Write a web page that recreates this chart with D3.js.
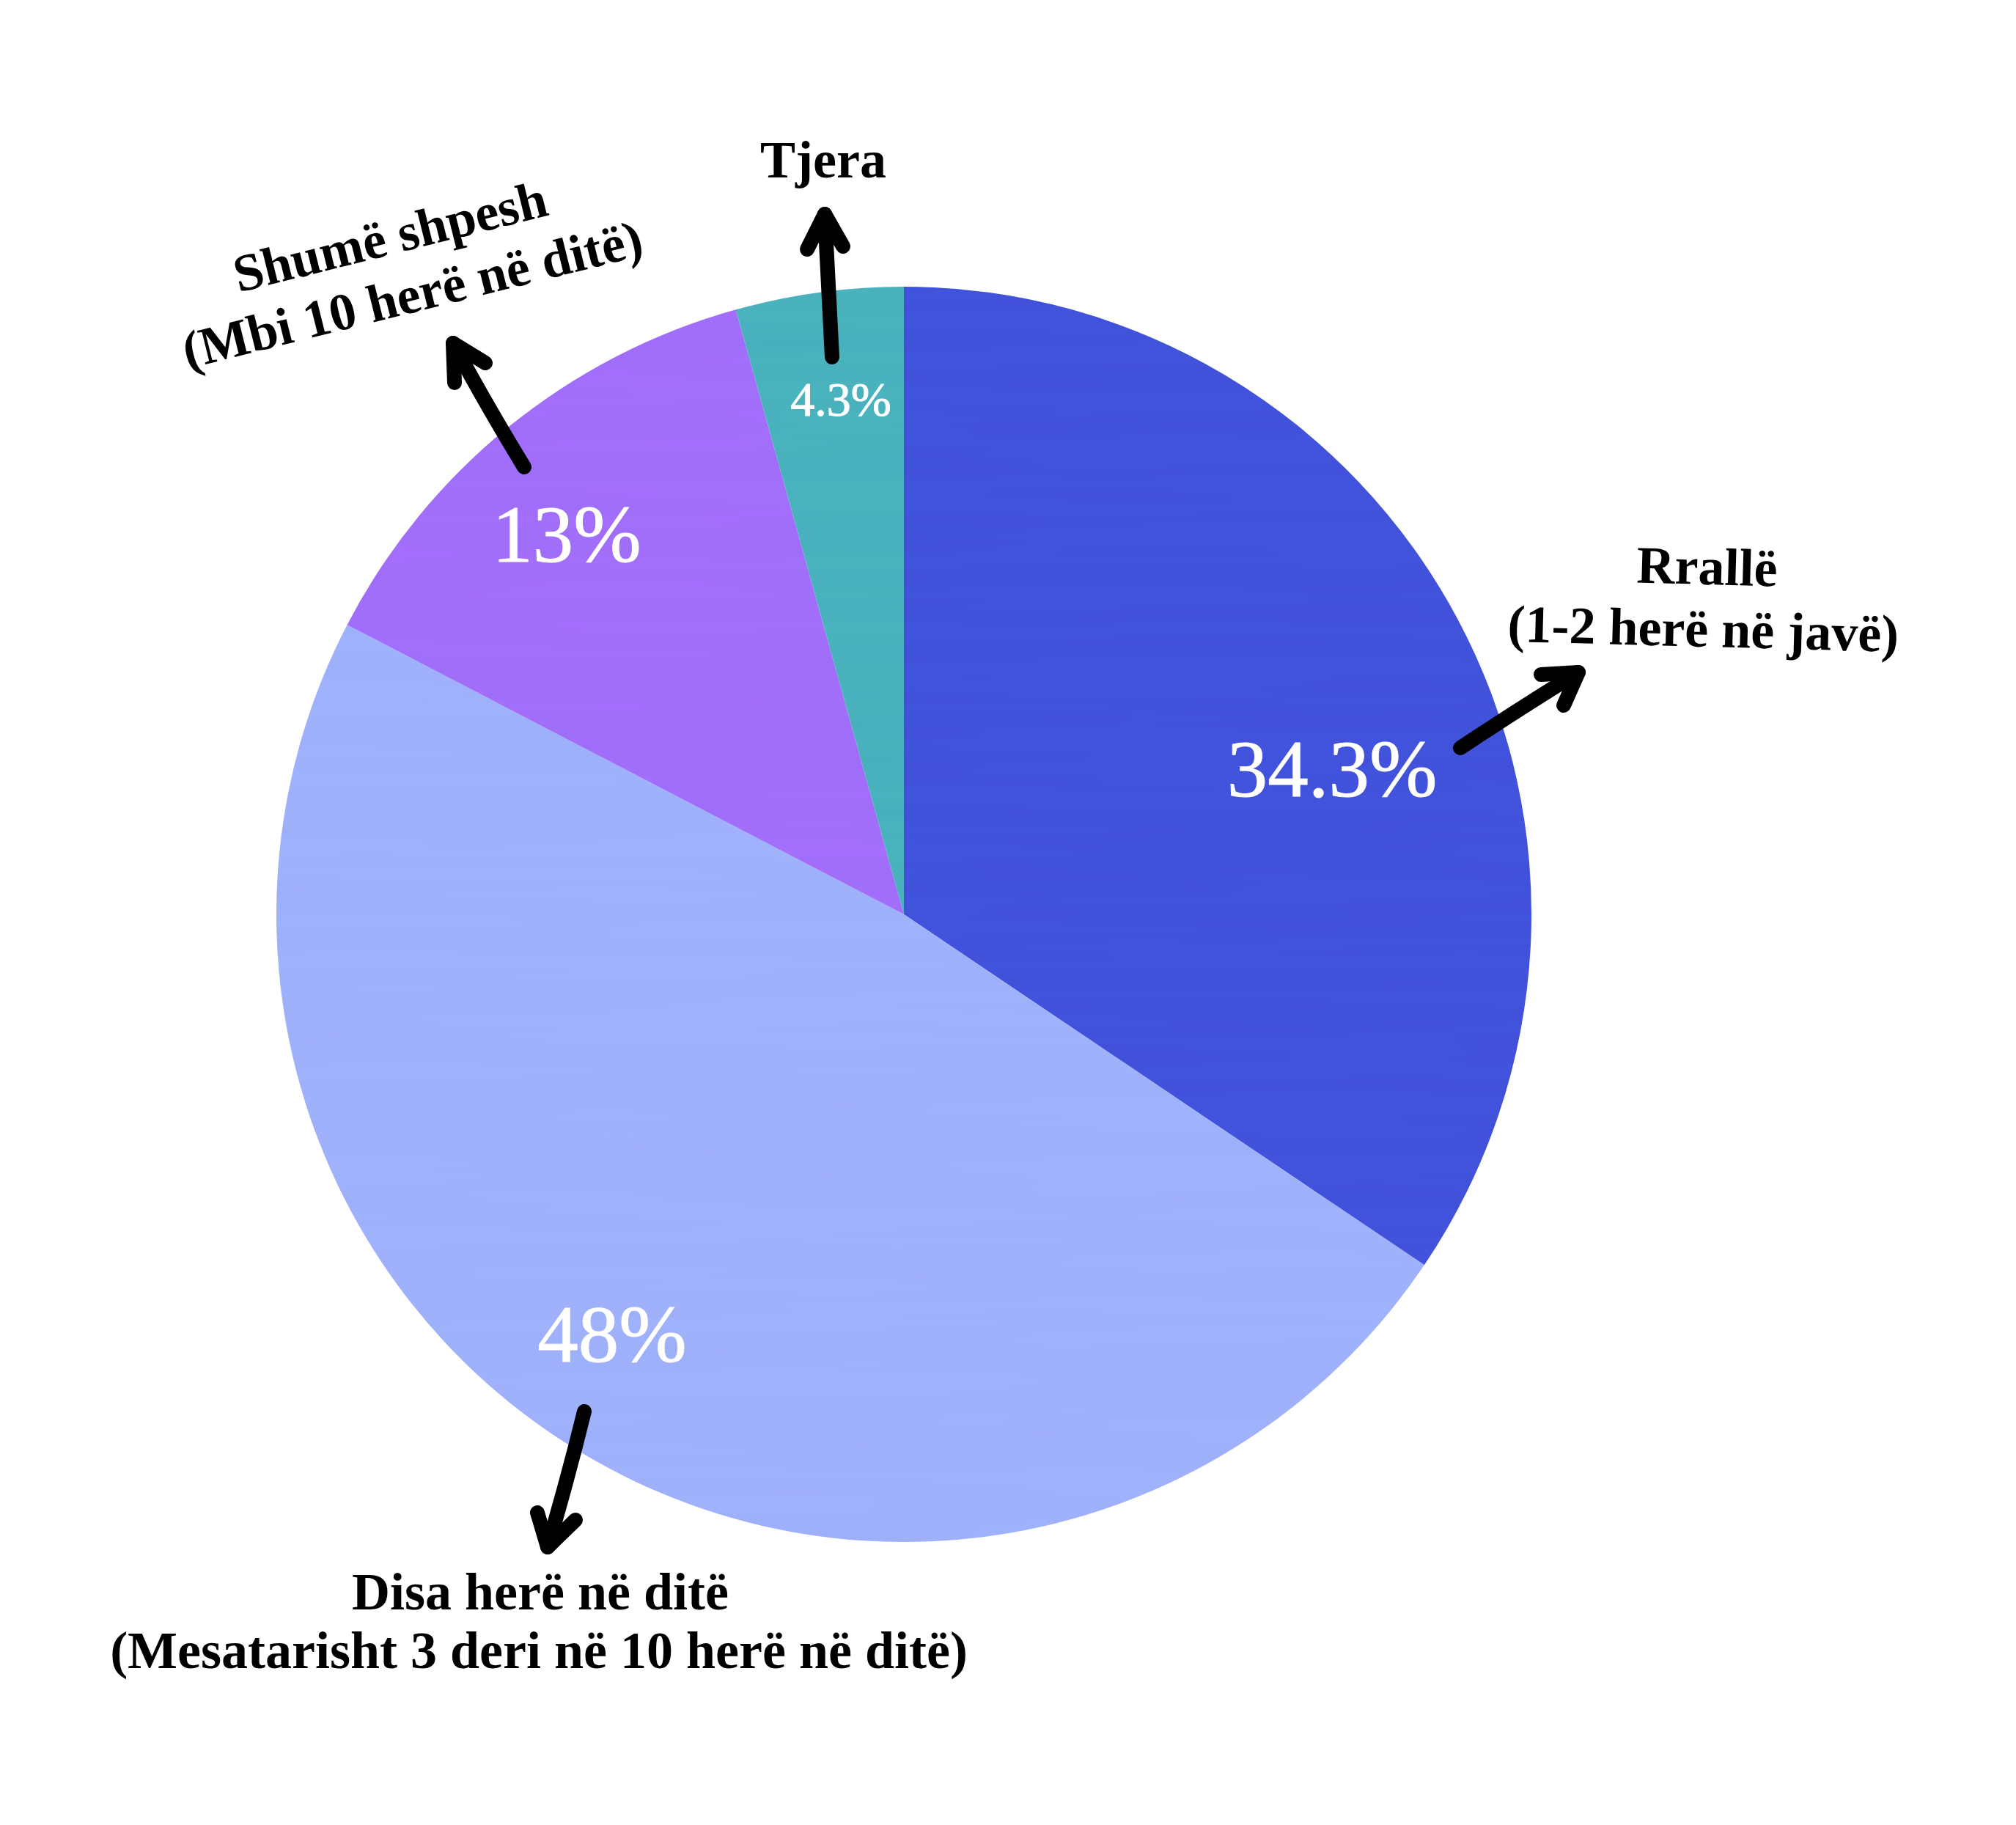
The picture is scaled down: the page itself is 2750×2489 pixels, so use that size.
<!DOCTYPE html>
<html>
<head>
<meta charset="utf-8">
<script src="https://cdn.jsdelivr.net/npm/d3@7/dist/d3.min.js"></script>
<style>
  html, body { margin: 0; padding: 0; background: #ffffff; }
  svg { display: block; }
</style>
</head>
<body>
<script>
// ---------- DATA ----------
const categories = ["Rrallë", "Disa herë në ditë", "Shumë shpesh", "Tjera"];
const values = [34.3, 48, 13, 4.3];
const percentLabels = ["34.3%", "48%", "13%", "4.3%"];
const labelLines = [
  ["Rrallë", "(1-2 herë në javë)"],
  ["Disa herë në ditë", "(Mesatarisht 3 deri në 10 herë në ditë)"],
  ["Shumë shpesh", "(Mbi 10 herë në ditë)"],
  ["Tjera"]
];
const colors = ["#4253DD", "#A2B4FD", "#A470FD", "#4AB5BF"];

// ---------- LAYOUT ----------
const W = 2750, H = 2489;
const cx = 1233, cy = 1247, R = 856;
const FONT = "'Liberation Serif', 'Times New Roman', serif";

// percent label positions (offsets from pie centre, baseline), font size
const pctLayout = [
  { dx: 584, dy: -161, fs: 111 },
  { dx: -398, dy: 610, fs: 111 },
  { dx: -460, dy: -481, fs: 111 },
  { dx: -86, dy: -680, fs: 66 }
];
// category label groups (absolute, baseline of first line), rotation, line gap
const catLayout = [
  { x: 2328, y: 797, rot: 1.5, gap: 85, dx2: -3 },
  { x: 737, y: 2195, rot: 0, gap: 80, dx2: -2 },
  { x: 538, y: 346, rot: -14, gap: 84, dx2: 10 },
  { x: 1123, y: 242, rot: 0, gap: 0, dx2: 0 }
];
// arrows: tail, control, tip, wing1, wing2 (absolute)
const arrowLayout = [
  { tail: [1992, 1020], ctrl: [2075, 965], tip: [2153, 917], w1: [2102, 920], w2: [2133, 962] },
  { tail: [797, 1925], ctrl: [775, 2015], tip: [747, 2110], w1: [733, 2063], w2: [785, 2073] },
  { tail: [715, 637], ctrl: [662, 550], tip: [618, 468], w1: [620, 522], w2: [662, 495] },
  { tail: [1135, 487], ctrl: [1130, 390], tip: [1125, 292], w1: [1101, 340], w2: [1150, 336] }
];

const svg = d3.select("body").append("svg")
  .attr("width", W).attr("height", H)
  .attr("viewBox", `0 0 ${W} ${H}`);

svg.append("rect").attr("width", W).attr("height", H).attr("fill", "#ffffff");

const defs = svg.append("defs");
const filt = defs.append("filter").attr("id", "paper")
  .attr("x", 0).attr("y", 0).attr("width", "100%").attr("height", "100%");
filt.append("feTurbulence").attr("type", "fractalNoise")
  .attr("baseFrequency", "0.0015 0.04").attr("numOctaves", 2).attr("seed", 3);
filt.append("feColorMatrix").attr("type", "matrix")
  .attr("values", "0 0 0 0 0  0 0 0 0 0  0 0 0 0 0.1  0 0 0 0.035 0");

defs.append("clipPath").attr("id", "pieClip")
  .append("circle").attr("cx", cx).attr("cy", cy).attr("r", R);

const data = categories.map((c, i) => ({ cat: c, value: values[i], i }));

const pie = d3.pie().sort(null).value(d => d.value).startAngle(0).endAngle(2 * Math.PI);
const arc = d3.arc().innerRadius(0).outerRadius(R);
const color = d3.scaleOrdinal().domain(categories).range(colors);

const g = svg.append("g").attr("transform", `translate(${cx},${cy})`);
g.selectAll("path.slice")
  .data(pie(data))
  .join("path")
  .attr("class", "slice")
  .attr("d", arc)
  .attr("fill", d => color(d.data.cat));

// subtle paper texture
svg.append("rect")
  .attr("x", cx - R).attr("y", cy - R).attr("width", 2 * R).attr("height", 2 * R)
  .attr("clip-path", "url(#pieClip)")
  .attr("filter", "url(#paper)")
  .attr("fill", "#000");

// percent labels
svg.append("g").selectAll("text")
  .data(data)
  .join("text")
  .attr("x", d => cx + pctLayout[d.i].dx)
  .attr("y", d => cy + pctLayout[d.i].dy)
  .attr("text-anchor", "middle")
  .attr("font-family", FONT)
  .attr("font-size", d => pctLayout[d.i].fs)
  .attr("fill", "#ffffff")
  .attr("stroke", "#ffffff")
  .attr("stroke-width", 1)
  .text(d => percentLabels[d.i]);

// arrows
const ag = svg.append("g")
  .attr("fill", "none").attr("stroke", "#000")
  .attr("stroke-width", 20).attr("stroke-linecap", "round").attr("stroke-linejoin", "round");
ag.selectAll("path.shaft")
  .data(data)
  .join("path")
  .attr("class", "shaft")
  .attr("d", d => {
    const a = arrowLayout[d.i];
    const p = d3.path();
    p.moveTo(a.tail[0], a.tail[1]);
    p.quadraticCurveTo(a.ctrl[0], a.ctrl[1], a.tip[0], a.tip[1]);
    return p.toString();
  });
ag.selectAll("path.head")
  .data(data)
  .join("path")
  .attr("class", "head")
  .attr("d", d => {
    const a = arrowLayout[d.i];
    return d3.line()([a.w1, a.tip, a.w2]);
  });

// category labels
const lg = svg.append("g");
const groups = lg.selectAll("g.cat")
  .data(data)
  .join("g")
  .attr("class", "cat")
  .attr("transform", d => {
    const L = catLayout[d.i];
    return `translate(${L.x},${L.y}) rotate(${L.rot})`;
  });
groups.selectAll("text")
  .data(d => labelLines[d.i].map((t, k) => ({ t, k, L: catLayout[d.i] })))
  .join("text")
  .attr("x", e => e.k === 0 ? 0 : e.L.dx2)
  .attr("y", e => e.k * e.L.gap)
  .attr("text-anchor", "middle")
  .attr("font-family", FONT)
  .attr("font-weight", "bold")
  .attr("font-size", 72)
  .attr("fill", "#000")
  .text(e => e.t);
</script>
</body>
</html>
